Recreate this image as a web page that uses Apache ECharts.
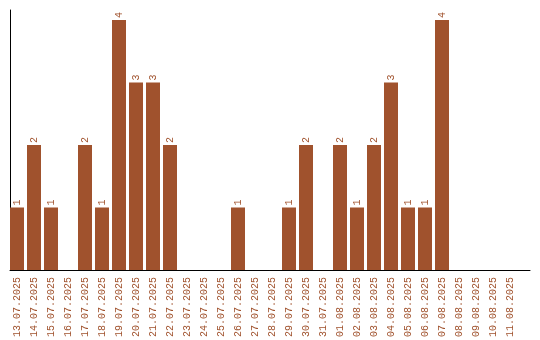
<!DOCTYPE html>
<html><head><meta charset="utf-8">
<script src="https://cdn.jsdelivr.net/npm/echarts@6/dist/echarts.min.js"></script>
<style>html,body{margin:0;padding:0;background:#fff}#c{width:540px;height:340px}</style>
</head><body><div id="c"></div>
<script>
const categories = ["13.07.2025","14.07.2025","15.07.2025","16.07.2025","17.07.2025","18.07.2025","19.07.2025","20.07.2025","21.07.2025","22.07.2025","23.07.2025","24.07.2025","25.07.2025","26.07.2025","27.07.2025","28.07.2025","29.07.2025","30.07.2025","31.07.2025","01.08.2025","02.08.2025","03.08.2025","04.08.2025","05.08.2025","06.08.2025","07.08.2025","08.08.2025","09.08.2025","10.08.2025","11.08.2025"];
const values = [1,2,1,0,2,1,4,3,3,2,0,0,0,1,0,0,1,2,0,2,1,2,3,1,1,4,0,0,0,0];
const color = '#A0522D';
const font = 'Liberation Mono';
const chart = echarts.init(document.getElementById('c'), null, {renderer:'canvas'});
chart.setOption({
  animation:false,
  grid:[{left:8.5,width:510,top:10,bottom:70,containLabel:false},
        {left:10,right:10,top:10,bottom:70,containLabel:false}],
  xAxis:[{type:'category',data:categories,gridIndex:0,
    axisLine:{show:false},axisTick:{show:false},
    axisLabel:{rotate:90,interval:0,color:color,fontFamily:font,fontSize:10,margin:7}},
    {type:'value',gridIndex:1,min:0,max:1,axisLine:{show:true,lineStyle:{color:'#000',width:1}},
     axisTick:{show:false},axisLabel:{show:false},splitLine:{show:false}}],
  yAxis:[{type:'value',gridIndex:0,min:0,max:4.16,splitLine:{show:false},axisLabel:{show:false},axisTick:{show:false},
    axisLine:{show:false}},
    {type:'value',gridIndex:1,min:0,max:1,splitLine:{show:false},axisLabel:{show:false},axisTick:{show:false},
    axisLine:{show:true,lineStyle:{color:'#000',width:1}}}],
  series:[{type:'bar',xAxisIndex:0,yAxisIndex:0,data:values.map(v=>({value:v,label:{show:v>0}})),barWidth:14,
    itemStyle:{color:color},
    label:{show:true,position:'top',rotate:90,align:'left',verticalAlign:'middle',distance:2,
      color:color,fontFamily:font,fontSize:10}}]
});
</script></body></html>
